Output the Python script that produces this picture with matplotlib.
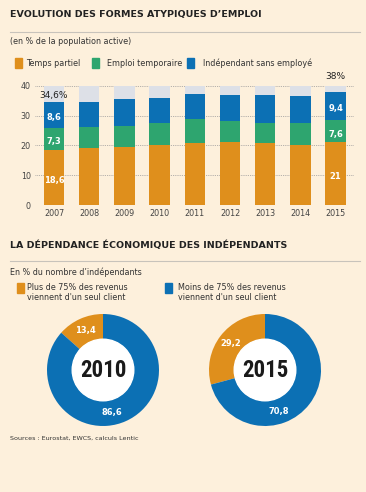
import numpy as np
import matplotlib.pyplot as plt
from matplotlib.patches import Rectangle
from matplotlib.lines import Line2D

# Data
annees = ['2007', '2008', '2009', '2010', '2011', '2012', '2013', '2014', '2015']
temps_partiel = [18.6, 19.2, 19.6, 20.2, 20.8, 21.2, 20.8, 20.2, 21.0]
emploi_temporaire = [7.3, 6.9, 7.0, 7.3, 8.0, 7.0, 6.8, 7.3, 7.6]
independant = [8.6, 8.5, 8.9, 8.5, 8.5, 8.7, 9.3, 9.0, 9.4]
series_noms = ['Temps partiel', 'Emploi temporaire', 'Indépendant sans employé']
# totaux affichés (arrondis de la source)
totaux_affiches = {'2007': '34,6%', '2015': '38%'}

donut_annees = ['2010', '2015']
plus_75 = [13.4, 29.2]
moins_75 = [86.6, 70.8]
donut_noms = ["Plus de 75% des revenus\nviennent d'un seul client",
              "Moins de 75% des revenus\nviennent d'un seul client"]

# Style
FOND = '#fdf0dc'
ORANGE = '#df8f1c'
VERT = '#2ea56f'
BLEU = '#0c70b4'
GRIS = '#dde0e7'
TEXTE = '#222222'
W, H = 366, 492
ETROIT = ['Liberation Sans Narrow', 'Roboto Condensed', 'DejaVu Sans Condensed',
          'Open Sans Condensed', 'Noto Sans', 'DejaVu Sans']

plt.rcParams['font.family'] = ['DejaVu Sans']

fig = plt.figure(figsize=(W / 100, H / 100), dpi=100)
fig.patch.set_facecolor(FOND)


def fx(px):
    return px / W


def fy(py):
    return 1 - py / H


def carre(x, y, couleur, w=7, h=9):
    fig.patches.append(Rectangle((fx(x), fy(y + h)), w / W, h / H,
                                 transform=fig.transFigure, color=couleur))


# ---- Partie 1 : barres ----
fig.text(fx(10), fy(15), "EVOLUTION DES FORMES ATYPIQUES D\u2019EMPLOI",
         fontsize=6.8, fontweight='bold', color=TEXTE, va='center')
fig.lines.append(Line2D([fx(10), fx(360)], [fy(32), fy(32)],
                        transform=fig.transFigure, color='#c8c3bb', lw=0.8))
fig.text(fx(10), fy(42), "(en % de la population active)", fontsize=5.8,
         color='#333333', va='center')

leg_pos = [(15, 26), (92, 107), (187, 203)]
for (xs, xt), nom, c in zip(leg_pos, series_noms, [ORANGE, VERT, BLEU]):
    carre(xs, 58, c, w=7, h=10)
    fig.text(fx(xt), fy(63), nom, fontsize=5.8, color='#333333', va='center')

ax = fig.add_axes([fx(35), fy(205), fx(354) - fx(35), fy(85.7) - fy(205)])
ax.set_facecolor(FOND)
x = np.arange(len(annees))
tp = np.array(temps_partiel)
et = np.array(emploi_temporaire)
ind = np.array(independant)
larg = 0.58
ax.bar(x, 40, width=larg, color=GRIS, zorder=2)
ax.bar(x, tp, width=larg, color=ORANGE, zorder=3)
ax.bar(x, et, width=larg, bottom=tp, color=VERT, zorder=3)
ax.bar(x, ind, width=larg, bottom=tp + et, color=BLEU, zorder=3)

ax.set_xlim(-0.54, 8.52)
ax.set_ylim(0, 40)
ax.set_yticks([0, 10, 20, 30, 40])
ax.set_xticks(x)
ax.set_xticklabels(annees)
ax.tick_params(length=0, labelsize=5.8, colors='#444444', pad=3)
ax.yaxis.grid(True, linestyle=(0, (1, 1.2)), color='#9a9a9a', lw=0.6, zorder=1)
for s in ax.spines.values():
    s.set_visible(False)

for i in [0, len(annees) - 1]:
    vals = [tp[i], et[i], ind[i]]
    bas = 0
    for v in vals:
        txt = f"{v:g}".replace('.', ',')
        ax.text(x[i], bas + v / 2 - 1.0, txt, ha='center', va='center',
                fontsize=6, fontweight='bold', color='white', zorder=4)
        bas += v
tot0 = tp[0] + et[0] + ind[0]
ax.text(x[0], tot0 + 0.6, totaux_affiches[annees[0]], ha='center',
        va='bottom', fontsize=6.5, color=TEXTE, zorder=4)
ax.text(x[-1], 41.5, totaux_affiches[annees[-1]], ha='center', va='bottom',
        fontsize=6.5, color=TEXTE, clip_on=False)

# ---- Partie 2 : donuts ----
fig.text(fx(10), fy(245), "LA DÉPENDANCE ÉCONOMIQUE DES INDÉPENDANTS",
         fontsize=6.8, fontweight='bold', color=TEXTE, va='center')
fig.lines.append(Line2D([fx(10), fx(360)], [fy(261), fy(261)],
                        transform=fig.transFigure, color='#c8c3bb', lw=0.8))
fig.text(fx(10), fy(272), "En % du nombre d\u2019indépendants", fontsize=5.8,
         color='#333333', va='center')
for (xs, xt), nom, c in zip([(17, 27), (165, 178)], donut_noms, [ORANGE, BLEU]):
    carre(xs, 283, c, w=7, h=10)
    fig.text(fx(xt), fy(283), nom, fontsize=5.8, color='#333333', va='top',
             linespacing=1.15)

centres = [103, 265]
rayon = 56
for cx, an, p, m in zip(centres, donut_annees, plus_75, moins_75):
    axd = fig.add_axes([fx(cx - rayon), fy(370 + rayon), 2 * rayon / W, 2 * rayon / H])
    axd.pie([p, m], colors=[ORANGE, BLEU], startangle=90, counterclock=True,
            radius=1, wedgeprops=dict(width=0.45, edgecolor='none'))
    axd.add_patch(plt.Circle((0, 0), 0.55, color='white', zorder=3))
    axd.set_xlim(-1, 1)
    axd.set_ylim(-1, 1)
    axd.set_aspect('equal')
    axd.axis('off')
    axd.text(0, -0.01, an, ha='center', va='center', fontsize=16.5,
             fontweight='bold', fontstretch='condensed', color='#1a1a1a',
             zorder=4, family=ETROIT)
    a_or = np.deg2rad(90 + p / 100 * 360 / 2)
    r = 0.775
    axd.text(r * np.cos(a_or), r * np.sin(a_or), f"{p:g}".replace('.', ','),
             ha='center', va='center', fontsize=6, fontweight='bold',
             color='white', zorder=4)
    a_bl = np.deg2rad(-78 if an == '2010' else -72)
    axd.text(r * np.cos(a_bl), r * np.sin(a_bl), f"{m:g}".replace('.', ','),
             ha='center', va='center', fontsize=6, fontweight='bold',
             color='white', zorder=4)

fig.text(fx(10), fy(438), "Sources : Eurostat, EWCS, calculs Lentic",
         fontsize=4.6, color='#333333', va='center')

fig.savefig('out.png', dpi=100, facecolor=FOND)
